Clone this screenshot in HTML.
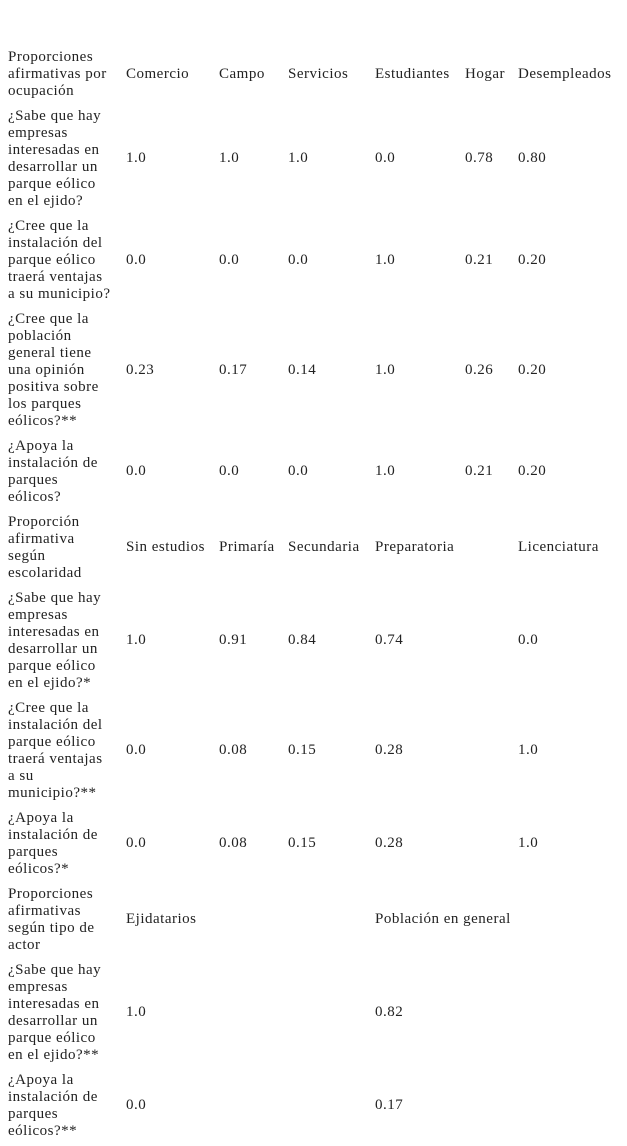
<!DOCTYPE html>
<html><head><meta charset="utf-8"><style>
html,body{margin:0;padding:0;background:#fff;width:627px;height:1146px;overflow:hidden}
table{position:absolute;left:6px;top:45px;border-collapse:collapse;table-layout:fixed;font-family:"Liberation Serif",serif;font-size:15px;line-height:17px;color:#222;letter-spacing:0.5px}
td{padding:3.5px 2px 4.5px 2px;vertical-align:middle;white-space:nowrap;text-align:left;overflow:visible}
</style></head><body>
<table>
<colgroup><col style="width:118px"><col style="width:93px"><col style="width:69px"><col style="width:87px"><col style="width:90px"><col style="width:53px"><col style="width:109px"></colgroup>
<tr><td>Proporciones<br>afirmativas por<br>ocupación</td><td>Comercio</td><td>Campo</td><td>Servicios</td><td>Estudiantes</td><td>Hogar</td><td>Desempleados</td></tr>
<tr><td>¿Sabe que hay<br>empresas<br>interesadas en<br>desarrollar un<br>parque eólico<br>en el ejido?</td><td>1.0</td><td>1.0</td><td>1.0</td><td>0.0</td><td>0.78</td><td>0.80</td></tr>
<tr><td>¿Cree que la<br>instalación del<br>parque eólico<br>traerá ventajas<br>a su municipio?</td><td>0.0</td><td>0.0</td><td>0.0</td><td>1.0</td><td>0.21</td><td>0.20</td></tr>
<tr><td>¿Cree que la<br>población<br>general tiene<br>una opinión<br>positiva sobre<br>los parques<br>eólicos?**</td><td>0.23</td><td>0.17</td><td>0.14</td><td>1.0</td><td>0.26</td><td>0.20</td></tr>
<tr><td>¿Apoya la<br>instalación de<br>parques<br>eólicos?</td><td>0.0</td><td>0.0</td><td>0.0</td><td>1.0</td><td>0.21</td><td>0.20</td></tr>
<tr><td>Proporción<br>afirmativa<br>según<br>escolaridad</td><td>Sin estudios</td><td>Primaría</td><td>Secundaria</td><td>Preparatoria</td><td></td><td>Licenciatura</td></tr>
<tr><td>¿Sabe que hay<br>empresas<br>interesadas en<br>desarrollar un<br>parque eólico<br>en el ejido?*</td><td>1.0</td><td>0.91</td><td>0.84</td><td>0.74</td><td></td><td>0.0</td></tr>
<tr><td>¿Cree que la<br>instalación del<br>parque eólico<br>traerá ventajas<br>a su<br>municipio?**</td><td>0.0</td><td>0.08</td><td>0.15</td><td>0.28</td><td></td><td>1.0</td></tr>
<tr><td>¿Apoya la<br>instalación de<br>parques<br>eólicos?*</td><td>0.0</td><td>0.08</td><td>0.15</td><td>0.28</td><td></td><td>1.0</td></tr>
<tr><td>Proporciones<br>afirmativas<br>según tipo de<br>actor</td><td>Ejidatarios</td><td></td><td></td><td colspan="3">Población en general</td></tr>
<tr><td>¿Sabe que hay<br>empresas<br>interesadas en<br>desarrollar un<br>parque eólico<br>en el ejido?**</td><td>1.0</td><td></td><td></td><td colspan="3">0.82</td></tr>
<tr><td>¿Apoya la<br>instalación de<br>parques<br>eólicos?**</td><td>0.0</td><td></td><td></td><td colspan="3">0.17</td></tr>
</table>
</body></html>
